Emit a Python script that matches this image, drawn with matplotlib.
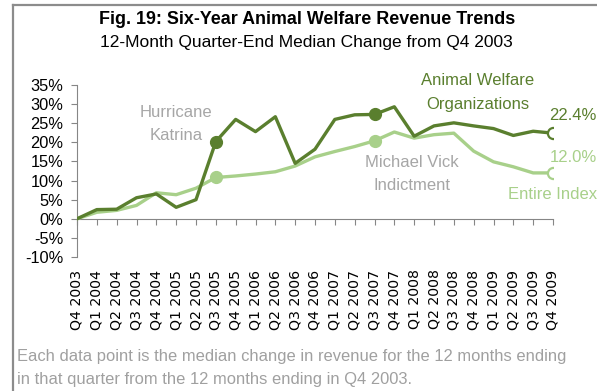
import matplotlib
matplotlib.use("Agg")
import matplotlib.pyplot as plt
from matplotlib.lines import Line2D

plt.rcParams['font.family'] = ['Liberation Sans', 'DejaVu Sans']

quarters = ["Q4 2003",
            "Q1 2004", "Q2 2004", "Q3 2004", "Q4 2004",
            "Q1 2005", "Q2 2005", "Q3 2005", "Q4 2005",
            "Q1 2006", "Q2 2006", "Q3 2006", "Q4 2006",
            "Q1 2007", "Q2 2007", "Q3 2007", "Q4 2007",
            "Q1 2008", "Q2 2008", "Q3 2008", "Q4 2008",
            "Q1 2009", "Q2 2009", "Q3 2009", "Q4 2009"]

# median revenue change vs Q4 2003, in percent
animal_welfare = [0.0, 2.4, 2.5, 5.5, 6.5, 3.0, 5.0, 20.2, 26.0, 22.8, 26.7, 14.5,
                  18.2, 26.0, 27.2, 27.3, 29.3, 21.6, 24.3, 25.1, 24.3, 23.6,
                  21.8, 22.9, 22.4]
entire_index = [0.0, 1.7, 2.2, 3.5, 6.8, 6.3, 8.0, 10.8, 11.2, 11.7, 12.3, 13.8,
                16.2, 17.6, 18.9, 20.4, 22.7, 21.1, 22.0, 22.4, 17.7, 14.9,
                13.6, 12.0, 12.0]

event_idx = [7, 15]            # Hurricane Katrina, Michael Vick indictment
yticks = list(range(-10, 40, 5))

DARK = '#5a7f2e'
LIGHT = '#a8d08a'
GRAY_TXT = '#a6a6a6'
AXIS = '#868686'

fig = plt.figure(figsize=(5.97, 3.91), dpi=100)
ax = fig.add_axes([77 / 597, (391 - 257) / 391, (553 - 77) / 597, (257 - 85) / 391])

x = list(range(len(quarters)))
last = len(quarters) - 1

ax.plot(x, entire_index, color=LIGHT, lw=2.4, solid_joinstyle='round', zorder=3)
ax.plot(x, animal_welfare, color=DARK, lw=2.4, solid_joinstyle='round', zorder=4)

for series, col, z in [(entire_index, LIGHT, 5), (animal_welfare, DARK, 6)]:
    ax.plot(event_idx, [series[i] for i in event_idx], 'o', ms=8.5,
            color=col, zorder=z)
    ax.plot([last], [series[last]], 'o', ms=8, mfc='white', mec=col,
            mew=1.6, zorder=z)

ax.set_xlim(0, last)
ax.set_ylim(-10, 35)
ax.set_yticks(yticks)
ax.set_yticklabels([f"{v}%" for v in yticks])
ax.set_xticks(x)
ax.set_xticklabels(quarters, rotation=90, family='DejaVu Sans', fontsize=10.2)

for s in ['top', 'right', 'bottom']:
    ax.spines[s].set_visible(False)
ax.spines['left'].set_color(AXIS)
ax.tick_params(axis='y', direction='out', length=4, width=0.8, color=AXIS,
               labelsize=11.8, pad=6)
ax.tick_params(axis='x', length=0, pad=9)

# category axis line with its ticks sits on the 0% line
zax = ax.secondary_xaxis(0, transform=ax.transData)
zax.set_xticks(x)
zax.tick_params(direction='out', length=4, width=0.8, color=AXIS, labelbottom=False)
zax.spines['bottom'].set_color(AXIS)

ax.text(5.0, 24.8, "Hurricane\nKatrina", color=GRAY_TXT, fontsize=12,
        ha='center', va='center', linespacing=1.7)
ax.text(16.9, 11.7, "Michael Vick\nIndictment", color=GRAY_TXT, fontsize=12,
        ha='center', va='center', linespacing=1.7)
ax.text(20.2, 33.0, "Animal Welfare\nOrganizations", color=DARK, fontsize=12,
        ha='center', va='center', linespacing=1.7)
ax.text(26.2, animal_welfare[last] + 4.6, f"{animal_welfare[last]:.1f}%",
        color=DARK, fontsize=12, ha='right', va='center')
ax.text(26.2, entire_index[last] + 4.1, f"{entire_index[last]:.1f}%",
        color=LIGHT, fontsize=12, ha='right', va='center')
ax.text(26.2, 6.3, "Entire Index", color=LIGHT, fontsize=12,
        ha='right', va='center')

fig.text(307 / 597, 1 - 20 / 391, "Fig. 19: Six-Year Animal Welfare Revenue Trends",
         ha='center', va='center', fontsize=12.9, fontweight='bold')
fig.text(306 / 597, 1 - 43 / 391, "12-Month Quarter-End Median Change from Q4 2003",
         ha='center', va='center', fontsize=12.5)
fig.text(17 / 597, 1 - 368 / 391,
         "Each data point is the median change in revenue for the 12 months ending\n"
         "in that quarter from the 12 months ending in Q4 2003.",
         ha='left', va='center', fontsize=11.9, color='#a0a0a0', linespacing=1.65)

# frame around the figure panel
fig.add_artist(Line2D([13 / 597, 13 / 597], [0, 1 - 5 / 391], color='#8c8c8c', lw=1.6))
fig.add_artist(Line2D([13 / 597, 1], [1 - 5 / 391, 1 - 5 / 391], color='#8c8c8c', lw=1.6))

fig.savefig("out.png", dpi=100)
